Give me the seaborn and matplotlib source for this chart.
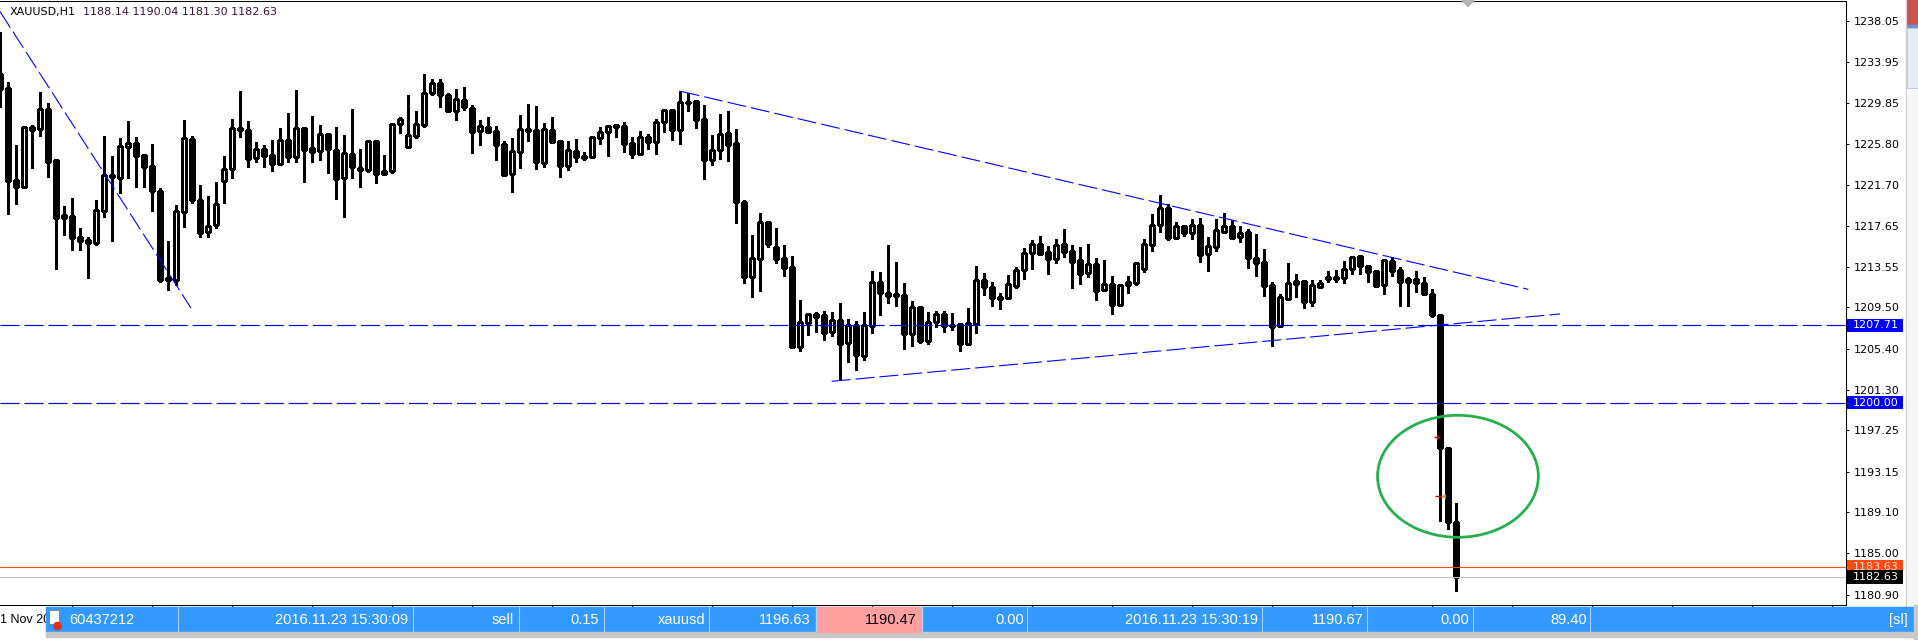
import numpy as np
import matplotlib
matplotlib.use("Agg")
import matplotlib.pyplot as plt
import matplotlib.transforms as mtransforms
from matplotlib.patches import Ellipse, Rectangle, Polygon, Circle
import seaborn as sns

# ---------------- data (XAUUSD H1) ----------------
opens = [1232.75, 1231.32, 1222.19, 1221.46, 1227.47, 1227.30, 1229.23, 1224.15, 1218.37, 1218.57,
         1216.51, 1216.21, 1215.88, 1219.07, 1222.69, 1222.36, 1225.44, 1225.84, 1224.68, 1223.55,
         1221.06, 1212.40, 1212.27, 1218.97, 1226.24, 1220.17, 1216.98, 1217.68, 1222.06, 1223.25,
         1227.37, 1227.14, 1224.35, 1225.25, 1224.65, 1223.75, 1226.18, 1224.52, 1227.34, 1225.38,
         1225.05, 1226.74, 1225.15, 1222.36, 1224.75, 1223.42, 1223.15, 1226.11, 1222.79, 1223.05,
         1227.77, 1225.44, 1226.61, 1227.70, 1230.89, 1231.82, 1230.62, 1229.10, 1230.13, 1229.33,
         1227.04, 1227.44, 1227.07, 1225.78, 1222.76, 1224.95, 1227.24, 1227.14, 1223.92, 1227.14,
         1226.04, 1223.62, 1225.05, 1224.55, 1224.52, 1226.34, 1226.94, 1227.64, 1227.54, 1225.84,
         1224.81, 1226.44, 1225.94, 1227.94, 1229.13, 1227.14, 1229.96, 1230.03, 1228.23, 1224.15,
         1225.18, 1226.84, 1225.84, 1219.97, 1212.56, 1214.29, 1217.98, 1215.52, 1214.39, 1213.49,
         1205.59, 1207.98, 1208.85, 1208.75, 1207.09, 1208.25, 1205.92, 1207.75, 1204.70, 1207.68,
         1212.00, 1210.94, 1210.84, 1210.74, 1206.82, 1209.54, 1206.19, 1208.02, 1208.81, 1207.75,
         1207.85, 1205.82, 1207.88, 1212.23, 1211.53, 1210.57, 1210.47, 1211.67, 1213.19, 1214.89,
         1215.78, 1215.02, 1214.36, 1215.82, 1215.09, 1214.22, 1212.90, 1213.83, 1211.20, 1211.80,
         1209.77, 1211.70, 1211.97, 1213.29, 1215.68, 1217.68, 1219.37, 1216.38, 1217.58, 1216.88,
         1217.67, 1214.85, 1215.55, 1217.04, 1217.61, 1216.48, 1216.98, 1214.39, 1214.02, 1211.73,
         1207.68, 1210.37, 1211.86, 1212.13, 1210.07, 1211.57, 1212.50, 1212.50, 1212.40, 1213.29,
         1214.59, 1213.59, 1213.16, 1211.70, 1214.12, 1213.23, 1212.00, 1212.30, 1211.90, 1210.84,
         1208.75, 1195.50, 1188.14]
highs = [1236.96, 1231.99, 1225.68, 1227.50, 1227.67, 1230.92, 1229.83, 1224.25, 1219.60, 1220.37,
         1217.38, 1216.48, 1220.20, 1226.54, 1224.58, 1226.34, 1228.07, 1226.44, 1224.68, 1225.78,
         1221.36, 1216.12, 1219.67, 1228.17, 1226.57, 1221.69, 1220.60, 1221.99, 1224.58, 1228.23,
         1231.06, 1228.10, 1225.94, 1225.68, 1226.14, 1227.37, 1228.90, 1231.16, 1227.50, 1228.57,
         1227.64, 1226.77, 1227.47, 1226.67, 1229.26, 1225.31, 1226.21, 1226.18, 1224.68, 1227.77,
         1228.50, 1230.66, 1229.06, 1232.75, 1232.25, 1232.25, 1230.89, 1231.26, 1231.46, 1229.66,
         1228.17, 1228.47, 1227.57, 1226.11, 1226.34, 1228.67, 1229.76, 1229.56, 1227.87, 1228.47,
         1226.08, 1226.08, 1226.28, 1224.95, 1226.47, 1227.50, 1227.67, 1227.64, 1227.97, 1226.44,
         1227.07, 1226.77, 1228.27, 1229.23, 1229.30, 1231.02, 1230.82, 1230.09, 1229.66, 1226.67,
         1228.77, 1229.03, 1227.24, 1220.20, 1216.68, 1218.91, 1218.14, 1217.38, 1215.68, 1214.62,
         1210.24, 1208.91, 1209.04, 1209.14, 1209.01, 1209.94, 1208.35, 1208.15, 1209.04, 1213.13,
         1213.03, 1215.72, 1214.02, 1211.93, 1210.14, 1209.67, 1209.04, 1209.14, 1209.14, 1208.94,
         1207.85, 1209.44, 1213.63, 1212.93, 1212.03, 1210.94, 1212.73, 1213.53, 1215.42, 1216.22,
         1216.61, 1215.65, 1216.32, 1217.31, 1215.72, 1215.52, 1215.82, 1214.42, 1214.22, 1212.63,
         1211.80, 1212.63, 1214.02, 1216.32, 1218.81, 1220.70, 1219.80, 1218.01, 1217.61, 1218.27,
         1218.37, 1216.55, 1218.31, 1218.87, 1218.21, 1217.61, 1217.28, 1216.81, 1215.32, 1212.00,
         1210.84, 1213.89, 1212.83, 1212.23, 1212.23, 1212.23, 1213.13, 1213.23, 1214.12, 1214.62,
         1214.59, 1213.63, 1213.23, 1214.29, 1214.49, 1213.49, 1212.53, 1213.13, 1212.50, 1211.33,
         1208.85, 1195.50, 1190.04]
lows = [1229.43, 1218.77, 1219.77, 1221.40, 1223.35, 1226.61, 1222.52, 1213.29, 1216.71, 1215.22,
        1215.22, 1212.39, 1215.71, 1218.54, 1216.15, 1220.86, 1222.36, 1221.53, 1221.46, 1219.14,
        1212.07, 1211.24, 1211.73, 1217.48, 1219.87, 1216.55, 1216.48, 1217.38, 1219.93, 1222.36,
        1226.44, 1223.45, 1223.95, 1223.52, 1223.12, 1223.75, 1224.02, 1224.02, 1222.02, 1224.02,
        1224.19, 1222.92, 1220.27, 1218.54, 1222.36, 1221.46, 1222.95, 1221.86, 1222.72, 1222.92,
        1226.90, 1225.44, 1226.34, 1227.50, 1230.69, 1229.50, 1229.00, 1228.17, 1229.13, 1224.91,
        1225.68, 1226.90, 1224.19, 1222.72, 1221.03, 1223.42, 1226.11, 1223.32, 1223.52, 1225.91,
        1222.52, 1223.22, 1224.02, 1224.22, 1224.42, 1225.74, 1224.62, 1226.44, 1225.01, 1224.42,
        1224.81, 1225.31, 1224.81, 1227.01, 1226.18, 1225.81, 1229.10, 1227.40, 1222.32, 1223.72,
        1224.28, 1224.08, 1217.94, 1211.97, 1210.57, 1211.17, 1215.49, 1213.96, 1212.66, 1205.42,
        1205.19, 1206.75, 1207.09, 1206.26, 1206.69, 1202.34, 1204.06, 1203.27, 1204.26, 1206.99,
        1208.75, 1209.94, 1209.64, 1205.36, 1205.69, 1205.92, 1205.86, 1207.58, 1207.09, 1207.25,
        1205.19, 1205.79, 1206.99, 1210.77, 1209.64, 1209.38, 1210.37, 1211.47, 1212.36, 1213.36,
        1214.69, 1212.83, 1213.96, 1214.56, 1211.47, 1211.83, 1212.56, 1210.24, 1211.20, 1208.85,
        1209.67, 1210.94, 1211.77, 1213.06, 1215.15, 1217.05, 1216.18, 1216.28, 1216.61, 1216.32,
        1214.06, 1213.16, 1215.15, 1216.88, 1216.31, 1215.98, 1213.46, 1212.63, 1210.67, 1205.69,
        1207.58, 1210.34, 1210.57, 1209.41, 1209.67, 1211.57, 1212.00, 1212.00, 1211.90, 1212.86,
        1212.79, 1212.00, 1211.50, 1210.80, 1212.66, 1209.67, 1209.67, 1211.03, 1210.74, 1208.51,
        1188.26, 1187.46, 1181.30]
closes = [1231.23, 1222.13, 1221.46, 1227.44, 1227.14, 1229.23, 1224.02, 1218.44, 1218.67, 1216.45,
          1216.15, 1215.88, 1219.17, 1222.66, 1222.52, 1225.58, 1225.84, 1224.62, 1223.45, 1221.06,
          1212.27, 1212.27, 1219.07, 1226.34, 1220.23, 1216.95, 1217.58, 1219.83, 1223.25, 1227.34,
          1227.14, 1224.25, 1225.25, 1224.62, 1223.75, 1226.14, 1224.52, 1227.34, 1225.15, 1224.95,
          1226.74, 1225.25, 1222.26, 1224.85, 1223.45, 1223.15, 1226.11, 1222.76, 1223.09, 1227.77,
          1228.23, 1226.67, 1227.74, 1230.82, 1231.82, 1230.69, 1229.10, 1230.23, 1229.43, 1227.01,
          1227.54, 1227.01, 1225.71, 1222.72, 1225.05, 1227.24, 1227.10, 1224.02, 1227.24, 1226.01,
          1223.62, 1225.15, 1224.52, 1224.42, 1226.44, 1226.94, 1227.60, 1227.50, 1225.81, 1224.81,
          1226.44, 1225.98, 1227.94, 1229.13, 1227.20, 1229.93, 1229.86, 1228.20, 1224.15, 1225.18,
          1226.74, 1225.71, 1220.03, 1212.56, 1214.39, 1217.98, 1215.85, 1214.36, 1213.46, 1205.59,
          1208.02, 1208.85, 1208.58, 1206.99, 1208.21, 1205.89, 1207.75, 1204.79, 1207.75, 1212.00,
          1210.97, 1210.64, 1210.64, 1206.89, 1209.54, 1206.19, 1208.02, 1208.81, 1207.68, 1207.68,
          1205.89, 1207.92, 1212.23, 1211.57, 1210.47, 1210.37, 1211.80, 1213.19, 1214.89, 1215.78,
          1214.85, 1214.36, 1215.68, 1215.05, 1214.06, 1212.86, 1213.79, 1211.17, 1211.80, 1209.77,
          1211.70, 1212.00, 1213.89, 1215.78, 1217.68, 1219.37, 1216.45, 1217.58, 1216.95, 1217.68,
          1214.75, 1215.58, 1217.18, 1217.58, 1216.45, 1216.91, 1214.45, 1213.96, 1211.67, 1207.58,
          1210.50, 1211.90, 1212.13, 1210.07, 1211.70, 1211.90, 1212.36, 1212.36, 1213.29, 1214.55,
          1213.59, 1213.06, 1211.67, 1214.19, 1213.16, 1212.00, 1212.30, 1211.90, 1210.87, 1208.71,
          1195.47, 1188.16, 1182.63]

price_ticks = [1238.05, 1233.95, 1229.85, 1225.80, 1221.70, 1217.65, 1213.55, 1209.50,
               1205.40, 1201.30, 1197.25, 1193.15, 1189.10, 1185.00, 1180.90]
level_prices = [1207.71, 1200.00]
ask_price = 1183.63
bid_price = 1182.63
trend_bars = [(-0.04, 23.83), (85.05, 191.0), (103.9, 194.96)]
trend_prices = [(1238.97, 1209.44), (1231.03, 1211.30), (1202.14, 1208.85)]
circle_bar, circle_price, circle_w, circle_h = 182.2, 1192.68, 20.1, 12.15
trade_open_price, trade_close_price = 1196.63, 1190.67
title_symbol = "XAUUSD,H1"
title_ohlc = "1188.14 1190.04 1181.30 1182.63"
date_label = "1 Nov 2016"
trade_cells = ["2016.11.23 15:30:09", "sell", "0.15", "xauusd", "1196.63", "1190.47",
               "0.00", "2016.11.23 15:30:19", "1190.67", "0.00", "89.40", "[sl]"]
ticket = "60437212"

# ---------------- style ----------------
sns.set_theme(style="white")
plt.rcParams["font.family"] = ["DejaVu Sans"]
plt.rcParams["lines.scale_dashes"] = False

W, H = 1918, 640
fig = plt.figure(figsize=(W / 100, H / 100), dpi=100)
fig.patch.set_facecolor("white")

AX_R, AX_T, AX_B = 1845.7, 1.0, 604.7
ax = fig.add_axes([0, (H - AX_B) / H, AX_R / W, (AX_B - AX_T) / H], zorder=1)
ax.set_facecolor("white")
ov = fig.add_axes([0, 0, 1, 1], zorder=3)
ov.set_xlim(0, W)
ov.set_ylim(H, 0)
ov.axis("off")
ov.patch.set_visible(False)

# ---------------- candles ----------------
o = np.array(opens); c = np.array(closes); hi = np.array(highs); lo = np.array(lows)
idx = np.arange(len(o))
bull = c >= o
ax.vlines(idx, lo, hi, color="black", lw=0.8, antialiased=False, zorder=2)
bot = np.minimum(o, c)
hgt = np.maximum(np.abs(c - o), 0.03)
ax.bar(idx[bull], hgt[bull], bottom=bot[bull], width=0.5, color="white",
       edgecolor="black", linewidth=0.8, zorder=3, antialiased=False)
ax.bar(idx[~bull], hgt[~bull], bottom=bot[~bull], width=0.5, color="black",
       edgecolor="black", linewidth=0.8, zorder=3, antialiased=False)

ax.set_xlim(-0.041, 230.67)
ax.set_ylim(1179.89, 1240.02)

dash = (0, (13.7, 3.6))
for lv in level_prices:
    ax.axhline(lv, color="#0000ff", lw=0.85, linestyle=dash, zorder=4)
for (b0, b1), (p0, p1) in zip(trend_bars, trend_prices):
    ax.plot([b0, b1], [p0, p1], color="#0000ff", lw=0.8, linestyle=dash, zorder=4)
ax.axhline(ask_price, color="#ff4a14", lw=0.8, zorder=4)
ax.axhline(bid_price, color="#c4c4c4", lw=0.8, zorder=4)

ax.add_patch(Ellipse((circle_bar, circle_price), circle_w, circle_h, fill=False,
                     edgecolor="#25b04b", lw=2.0, zorder=5))
ax.plot([179.6], [trade_open_price], marker="+", color="#e00000", ms=5, mew=1.0, zorder=5)
ax.plot([179.7], [trade_close_price], marker="_", color="#e00000", ms=4, mew=1.0, zorder=5)
ax.plot([180.3], [trade_close_price], marker="<", color="#e0a020", ms=3.5, mew=0, zorder=5)

# axes / ticks
ax.yaxis.tick_right()
ax.set_yticks(price_ticks)
ax.set_yticklabels([f"{t:.2f}" for t in price_ticks])
ax.tick_params(axis="y", right=True, left=False, labelright=True, labelleft=False,
               direction="out", length=2, width=0.75, pad=3.5, labelsize=8, colors="black")
ax.set_xticks(np.arange(9, 231, 10))
ax.set_xticklabels([])
ax.tick_params(axis="x", bottom=True, direction="out", length=2.5, width=0.75, colors="black")
for s in ["top", "right", "bottom"]:
    ax.spines[s].set_visible(True)
    ax.spines[s].set_color("black")
    ax.spines[s].set_linewidth(0.75)
ax.spines["left"].set_visible(False)
ax.grid(False)

# price label boxes on the right scale
trans = mtransforms.blended_transform_factory(ov.transData, ax.transData)
hh = 0.667
def price_box(p, face, txtcol, z):
    ax.add_patch(Rectangle((1847, p - hh), 56, 2 * hh, transform=trans, facecolor=face,
                           edgecolor="none", clip_on=False, zorder=z))
    ax.text(1853, p, f"{p:.2f}", transform=trans, color=txtcol, fontsize=8,
            va="center", ha="left", clip_on=False, zorder=z + 0.1)
for lv in level_prices:
    price_box(lv, "#0000ff", "white", 10)
price_box(ask_price, "#ff4a14", "#ffe0d0", 10)
price_box(bid_price, "black", "white", 11)

# title
ov.text(10, 12, title_symbol, fontsize=8, color="black", va="center", ha="left")
ov.text(83, 12, title_ohlc, fontsize=8, color="#3a1038", va="center", ha="left")

# top marker and right strip
ov.add_patch(Polygon([(1462, 0.5), (1474, 0.5), (1468, 6.5)], closed=True, color="#b4b4b4"))
ov.add_patch(Rectangle((1905, 0), 13, 640, facecolor="#f6f6f6", edgecolor="none"))
ov.plot([1905.5, 1905.5], [0, 607], color="#d4d4d4", lw=0.8)
ov.add_patch(Rectangle((1907, 0), 11, 25, color="#c9534f"))
ov.add_patch(Rectangle((1907, 25), 11, 3, color="#6f95d8"))
ov.add_patch(Rectangle((1907, 28), 11, 60, facecolor="#e6ecf5", edgecolor="#b8c4d8", lw=0.6))

# bottom terminal row
bar_font = ["Liberation Sans", "DejaVu Sans"]
ov.text(0, 620, date_label, fontsize=9, color="black", va="center", ha="left",
        family=bar_font, zorder=1)
ov.add_patch(Rectangle((46, 607.3), 1913.3 - 46, 24.7, color="#3399ff", zorder=2))
ov.add_patch(Rectangle((46, 632), 1913.3 - 46, 5, color="#c8c8c8", zorder=2))
ov.add_patch(Rectangle((1914, 605), 4, 35, color="#c8c8c8", zorder=2))
ov.add_patch(Rectangle((815.7, 607.3), 106, 24.7, color="#ffa0a0", zorder=3))
for sx in [178.3, 412.7, 518.5, 603.7, 709.3, 815.7, 921.7, 1027.3, 1261.7, 1367.3, 1473.3, 1590.3]:
    ov.plot([sx, sx], [607.3, 632], color="#a9cff2", lw=0.8, zorder=4)
ov.add_patch(Rectangle((48.5, 610), 10, 14, facecolor="white", edgecolor="#7a7a7a", lw=0.6, zorder=5))
ov.add_patch(Circle((57.5, 626), 3.6, color="#e0300e", zorder=6))
ov.text(69.3, 620, ticket, fontsize=10.5, color="white", va="center", ha="left",
        family=bar_font, zorder=6)
ends = [408.3, 514.3, 599.3, 705, 811, 916.7, 1024, 1257.7, 1363.3, 1469.3, 1586.7, 1907.3]
for txt, ex in zip(trade_cells, ends):
    col = "black" if txt == "1190.47" else "white"
    ov.text(ex, 620, txt, fontsize=10.5, color=col, va="center", ha="right",
            family=bar_font, zorder=6)

fig.savefig("out.png", dpi=100, facecolor="white")
